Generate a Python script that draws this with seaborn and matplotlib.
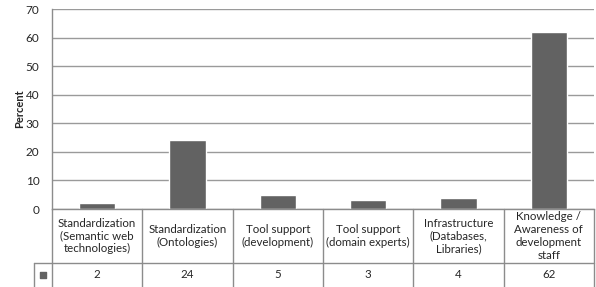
import matplotlib
matplotlib.use("Agg")
import matplotlib.pyplot as plt
import seaborn as sns
import pandas as pd

categories = [
    "Standardization\n(Semantic web\ntechnologies)",
    "Standardization\n(Ontologies)",
    "Tool support\n(development)",
    "Tool support\n(domain experts)",
    "Infrastructure\n(Databases,\nLibraries)",
    "Knowledge /\nAwareness of\ndevelopment\nstaff",
]
values = [2, 24, 5, 3, 4, 62]
y_ticks = [0, 10, 20, 30, 40, 50, 60, 70]

sns.set_style("white")
plt.rcParams["font.family"] = ["Lato", "DejaVu Sans"]

W, H = 596, 287
fig = plt.figure(figsize=(W / 100, H / 100), dpi=100)

# main plot area (pixel coords from the reference)
left, right, top, base = 52, 594, 9, 209
ax = fig.add_axes([left / W, (H - base) / H, (right - left) / W, (base - top) / H])

df = pd.DataFrame({"cat": categories, "val": values})
sns.barplot(data=df, x="cat", y="val", color="#626262", width=0.4,
            saturation=1, ax=ax)
ax.set_xlim(-0.5, len(categories) - 0.5)
ax.set_ylim(0, 70)
ax.set_yticks(y_ticks)
ax.tick_params(axis="y", labelsize=8.5, length=0, pad=9, colors="#262626")
ax.set_xticks([])
ax.set_xlabel("")
ax.set_ylabel("Percent", fontsize=8, fontweight="bold")
ax.yaxis.set_label_coords((25 - left) / (right - left), 0.5)
ax.grid(axis="y", color="#9a9a9a", linewidth=1)
ax.set_axisbelow(True)
for s in ["top", "right"]:
    ax.spines[s].set_visible(False)
for s in ["left", "bottom"]:
    ax.spines[s].set_color("#8c8c8c")
    ax.spines[s].set_linewidth(1)

# data table below the plot
ax_t = fig.add_axes([left / W, 0, (right - left) / W, (H - base) / H])
ax_t.set_xlim(-0.5, len(categories) - 0.5)
ax_t.set_ylim(0, H - base)
ax_t.axis("off")
row_y = H - 263
lc = "#8c8c8c"
for i in range(len(categories) + 1):
    ax_t.plot([i - 0.5, i - 0.5], [0, H - base], color=lc, lw=1, clip_on=False)
ax_t.plot([-0.5 - 18 / 90.3, len(categories) - 0.5], [row_y, row_y],
          color=lc, lw=1, clip_on=False)
ax_t.plot([-0.5 - 18 / 90.3] * 2, [0, row_y], color=lc, lw=1, clip_on=False)
ax_t.scatter([-0.5 - 9 / 90.3], [row_y / 2], marker="s", s=22,
             color="#626262", clip_on=False)
for i, (c, v) in enumerate(zip(categories, values)):
    ax_t.text(i, (H - base + row_y) / 2, c, ha="center", va="center",
              fontsize=8.3, color="#262626", linespacing=1.2)
    ax_t.text(i, row_y / 2, str(v), ha="center", va="center",
              fontsize=8.3, color="#262626")

fig.savefig("out.png", dpi=100)
